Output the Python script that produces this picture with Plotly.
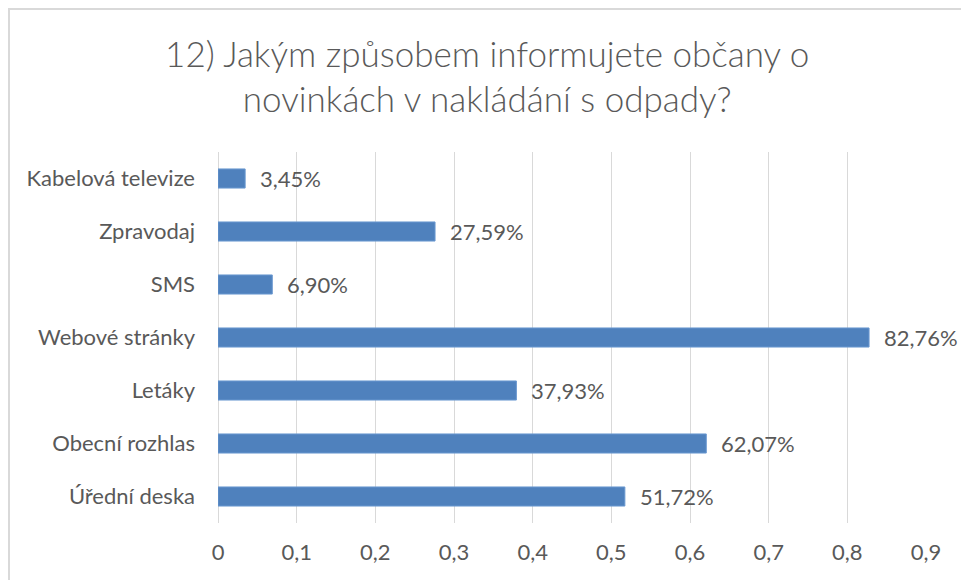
import plotly.graph_objects as go

categories = ["Kabelová televize", "Zpravodaj", "SMS", "Webové stránky",
              "Letáky", "Obecní rozhlas", "Úřední deska"]
values = [0.0345, 0.2759, 0.0690, 0.8276, 0.3793, 0.6207, 0.5172]
tick_vals = [0, 0.1, 0.2, 0.3, 0.4, 0.5, 0.6, 0.7, 0.8, 0.9]
title_text = "12) Jakým způsobem informujete občany o<br>novinkách v nakládání s odpady?"

labels = [f"{v*100:.2f}".replace(".", ",") + "%" for v in values]

FONT = "Lato, 'Open Sans', sans-serif"
TXT = "#595959"

fig = go.Figure()
fig.add_trace(go.Bar(
    x=values, y=categories, orientation="h",
    marker=dict(color="#4F81BD", line=dict(color="#6A98D0", width=1)),
    hoverinfo="skip",
))

for v, c, lab in zip(values, categories, labels):
    fig.add_annotation(x=v, y=c, text=lab, showarrow=False, xanchor="left",
                       xshift=13, font=dict(family=FONT, size=22, color=TXT))

L, R, T, B = 218, 35, 152, 57
W, H = 961, 580
pw, ph = W - L - R, H - T - B

def px_x(p):
    return (p - L) / pw

def px_y(p):
    return 1 - (p - T) / ph

fig.add_shape(type="rect", xref="paper", yref="paper",
              x0=px_x(9), x1=px_x(1100), y0=px_y(9), y1=px_y(700),
              line=dict(color="#D9D9D9", width=2), fillcolor="rgba(0,0,0,0)",
              layer="below")

fig.update_layout(
    width=W, height=H,
    margin=dict(l=L, r=R, t=T, b=B),
    paper_bgcolor="white", plot_bgcolor="white",
    separators=", ",
    bargap=0.64,
    showlegend=False,
    title=dict(text=title_text, x=0.507, xanchor="center", y=0.885, yanchor="middle",
               font=dict(family=FONT, size=35, color=TXT, weight=300)),
    font=dict(family=FONT, color=TXT),
    xaxis=dict(range=[0, 0.9], tickvals=tick_vals, tickformat=".1f",
               showgrid=True, gridcolor="#D9D9D9", gridwidth=1,
               zeroline=True, zerolinecolor="#D9D9D9", zerolinewidth=1,
               showline=False, ticks="", ticklabelstandoff=14,
               tickfont=dict(family=FONT, size=22, color=TXT)),
    yaxis=dict(autorange="reversed", showgrid=False, zeroline=False,
               showline=False, ticks="", ticklabelstandoff=22,
               tickfont=dict(family=FONT, size=22, color=TXT)),
)

fig.update_xaxes(labelalias={"0,0": "0"})

fig.write_html("out.html",
               config={"displayModeBar": False},
               post_script="document.body.style.margin='0';"
                           "document.body.style.overflow='hidden';")
